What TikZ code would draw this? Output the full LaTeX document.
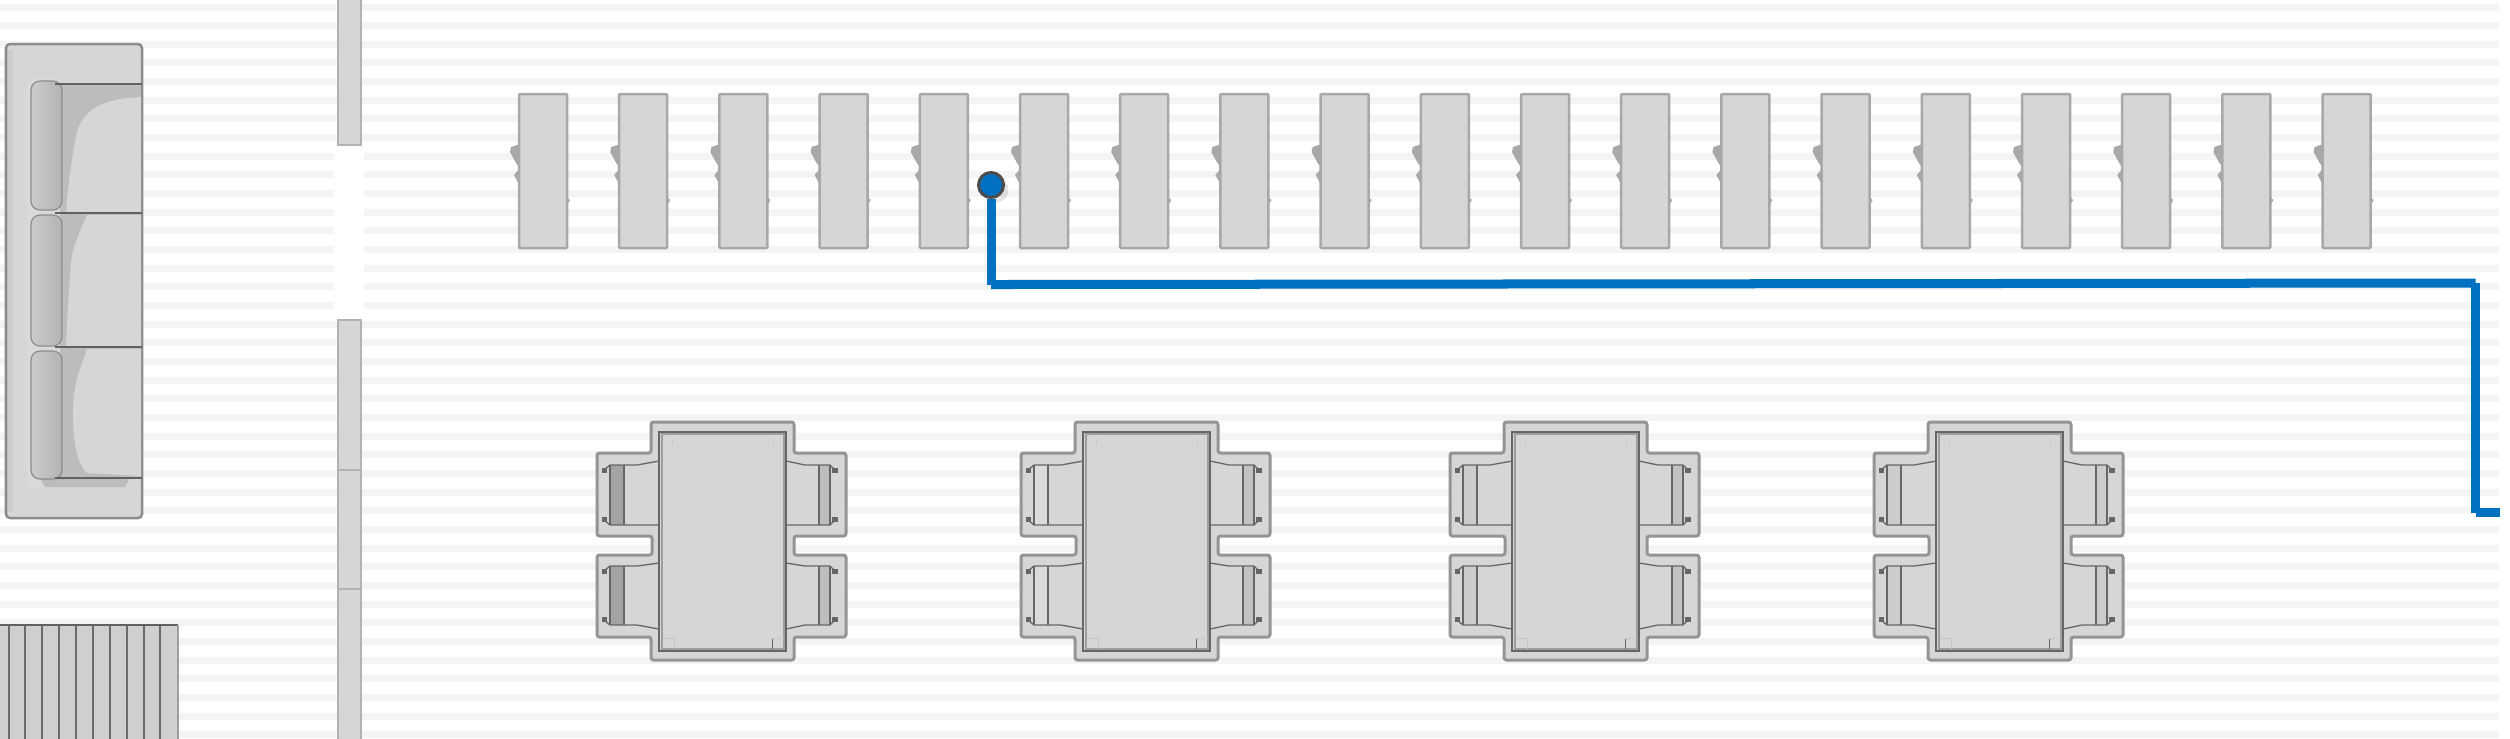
\documentclass[tikz,border=0pt]{standalone}
\usepackage{tikz}
\usetikzlibrary{shadows}
\definecolor{stripegray}{HTML}{F4F4F4}
\definecolor{planfill}{HTML}{D6D6D6}
\definecolor{seatdark}{HTML}{BCBCBC}
\definecolor{wireblue}{HTML}{0070C0}
\tikzset{
  stripe/.style={fill=stripegray},
  wall/.style={fill=planfill,draw=black!30,line width=.025cm},
  desk/.style={fill=planfill,draw=black!34,line width=.025cm,rounded corners=.01cm},
  deskmark/.style={fill=black!34},
  sofaline/.style={draw=black!62,line width=.015cm},
  pad/.style={draw=black!45,line width=.012cm,rounded corners=.09cm,left color=black!20,middle color=black!7,right color=black!30},
  band/.style={fill=planfill,draw=black!42,line width=.03cm,rounded corners=.025cm},
  tabletop/.style={fill=planfill,draw=black!60,line width=.018cm},
  tableinner/.style={draw=black!38,line width=.012cm},
  seatline/.style={draw=black!60,line width=.013cm},
  leg/.style={fill=black!60},
  wire/.style={draw=wireblue,line width=.09cm},
  pin/.style={circle,fill=wireblue,draw=black!70,line width=.03cm,minimum size=.25cm,inner sep=0pt,
    drop shadow={shadow xshift=.05cm,shadow yshift=-.05cm,opacity=.2}}
}
\begin{document}
\begin{tikzpicture}[x=.01cm,y=-.01cm]

  \useasboundingbox (0,0) rectangle (2510,738);
  \fill[white] (0,0) rectangle (2510,738);

  \foreach \i in {0,...,39}
    \fill[stripe] (0,{3.5+18.66*\i}) rectangle (2499,{10.5+18.66*\i});
  \fill[white] (334,146) rectangle (364,319);

  % walls
  \draw[wall] (338,-5) rectangle (361,145);
  \draw[wall] (338,320) rectangle (361,470);
  \draw[wall] (338,470) rectangle (361,589);
  \draw[wall] (338,589) rectangle (361,745);

  % sofa
  \draw[fill=planfill,draw=black!45,line width=.025cm,rounded corners=.04cm] (6,44) rectangle (142,518);
  \fill[black!20] (8,50) rectangle (13,512);
  \fill[black!15,rounded corners=.08cm] (26,78) rectangle (64,488);
  \fill[seatdark] (60,84) rectangle (141,478);
  \fill[seatdark] (40,478) -- (130,478) -- (125,487) -- (45,487) -- cycle;
  \fill[planfill] (141,97) .. controls (110,98) and (84,106) .. (77,132) .. controls (72,155) and (68,185) .. (66,213) -- (141,213) -- cycle;
  \fill[planfill] (87,215) .. controls (78,235) and (72,250) .. (71,262) .. controls (69,290) and (67,320) .. (66,346) -- (141,346) -- (141,215) -- cycle;
  \fill[planfill] (87,349) .. controls (80,370) and (73,385) .. (73,410) .. controls (73,440) and (76,462) .. (87,473) -- (141,476) -- (141,349) -- cycle;
  \foreach \ya/\yb in {81/210,215/346,351/479}
    \draw[pad] (31,\ya) rectangle (62,\yb);
  \foreach \ya in {84,213,347,478}
    \draw[sofaline] (55,\ya) -- (142,\ya);

  % rug
  \fill[black!19] (-5,625) rectangle (178,745);
  \foreach \xa in {9,25,42,59,76,93,110,127,144,160}
    \draw[black!58,line width=.025cm] (\xa,625) -- (\xa,745);
  \draw[black!62,line width=.025cm] (-5,625) -- (178,625);
  \draw[black!38,line width=.025cm] (178,625) -- (178,745);

  % desks
  \foreach \i in {0,...,18}
  {
    \begin{scope}[shift={({519+100.2*\i},94)}]
      \fill[deskmark] (1,50) -- (-8,53) -- (-9,58) -- (-3,69) -- (1,74) -- (-5,81) -- (1,92) -- cycle;
      \fill[deskmark] (47,102) -- (51,106) -- (47,113) -- cycle;
      \draw[desk] (0,0) rectangle (48,154);
    \end{scope}
  }

  % dining sets
  \foreach \tx/\lc/\rc in {597/black!36/black!26,1021/black!14/black!24,1450/black!20/black!24,1874/black!20/black!20}
  {
    \begin{scope}[shift={(\tx,422)}]
      \draw[band] (54,0) -- (197,0) -- (197,31) -- (249,31) -- (249,114) -- (197,114) -- (197,133) -- (249,133)
        -- (249,215) -- (197,215) -- (197,238) -- (54,238) -- (54,215) -- (0,215) -- (0,133) -- (55,133) -- (55,114)
        -- (0,114) -- (0,31) -- (54,31) -- cycle;
      \foreach \ya/\yb/\yc/\yd in {39/43/103/103,141/144/203/207}
      {
        \fill[\lc] (13,\yb) rectangle (27,\yc);
        \draw[seatline] (62,\ya) -- (40,\yb) -- (13,\yb) -- (7,{\yb+5});
        \draw[seatline] (62,\yd) -- (40,\yc) -- (13,\yc) -- (7,{\yc-5});
        \draw[seatline] (13,\yb) -- (13,\yc) (27,\yb) -- (27,\yc);
        \fill[leg] (5,{\yb+3}) rectangle (10,{\yb+8});
        \fill[leg] (5,{\yc-8}) rectangle (10,{\yc-3});
        \fill[\rc] (222,\yb) rectangle (233,\yc);
        \draw[seatline] (189,\ya) -- (208,\yb) -- (233,\yb) -- (238,{\yb+5});
        \draw[seatline] (189,\yd) -- (208,\yc) -- (233,\yc) -- (238,{\yc-5});
        \draw[seatline] (222,\yb) -- (222,\yc) (233,\yb) -- (233,\yc);
        \fill[leg] (235,{\yb+3}) rectangle (241,{\yb+8});
        \fill[leg] (235,{\yc-8}) rectangle (241,{\yc-3});
      }
      \draw[tabletop] (62,10) rectangle (189,229);
      \draw[tableinner] (65,12) rectangle (187,227);
      \draw[black!60,line width=.01cm] (175,227) -- (175,216);
      \draw[black!22,line width=.008cm] (175,216) -- (187,216) (66,216) -- (77,216) -- (77,227) (75,16) -- (75,23) (176,16) -- (176,23);
    \end{scope}
  }

  % connector
  \node[pin] (dot) at (991,185) {};
  \coordinate (turnA) at (991,284.5);
  \coordinate (turnB) at (2475.5,283);
  \coordinate (turnC) at (2475.5,512.5);
  \coordinate (wireEnd) at (2500,512.5);
  \path[wire] (dot) edge (turnA)
        (turnA) edge (turnB)
        (turnB) edge (turnC)
        (turnC) edge (wireEnd);

\end{tikzpicture}
\end{document}
